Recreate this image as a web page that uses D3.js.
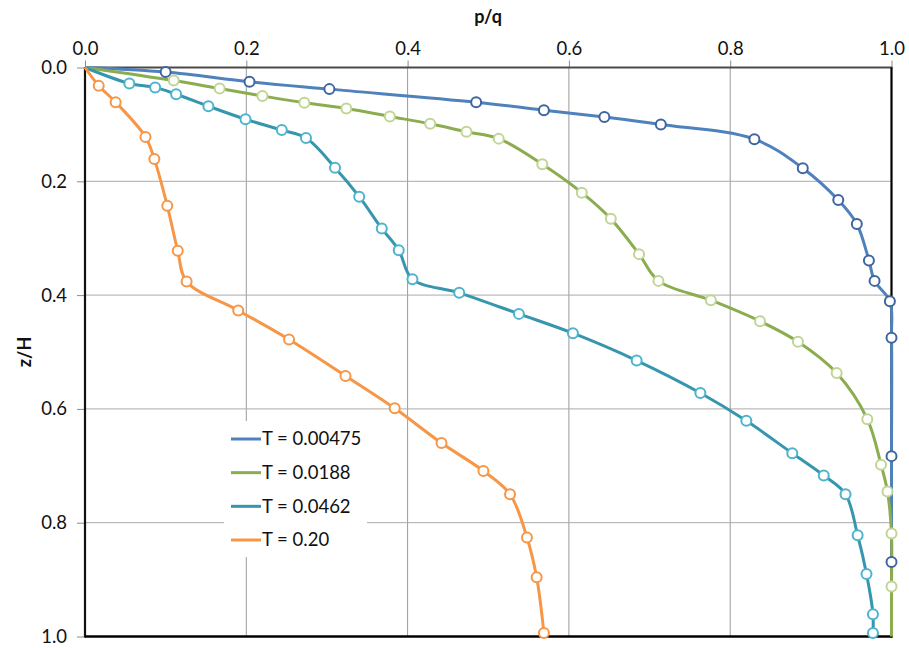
<!DOCTYPE html>
<html><head><meta charset="utf-8">
<script src="https://cdn.jsdelivr.net/npm/d3@7"></script>
<style>body{margin:0;background:#fff;} svg{display:block;font-family:Lato,"Open Sans",sans-serif;}</style>
</head><body><svg id="c" width="909" height="648"></svg>
<script>
const xTicks = [0.0, 0.2, 0.4, 0.6, 0.8, 1.0];
const yTicks = [0.0, 0.2, 0.4, 0.6, 0.8, 1.0];
const seriesNames = ["T = 0.00475", "T = 0.0188", "T = 0.0462", "T = 0.20"];

const pBlue = [0, 0.100, 0.204, 0.303, 0.485, 0.569, 0.644, 0.714, 0.830, 0.890, 0.934, 0.957, 0.972, 0.979, 0.998, 1.0, 1.0, 1.0];
const zBlue = [0, 0.008, 0.025, 0.038, 0.061, 0.075, 0.087, 0.100, 0.126, 0.177, 0.233, 0.275, 0.339, 0.375, 0.411, 0.475, 0.683, 0.869];

const pGreen = [0, 0.110, 0.167, 0.220, 0.272, 0.324, 0.378, 0.428, 0.473, 0.513, 0.567, 0.616, 0.652, 0.687, 0.711, 0.776, 0.837, 0.884, 0.932, 0.970, 0.987, 0.995, 1.0, 1.0, 1.0];
const zGreen = [0, 0.023, 0.037, 0.050, 0.062, 0.072, 0.086, 0.099, 0.113, 0.125, 0.170, 0.220, 0.266, 0.328, 0.375, 0.409, 0.446, 0.482, 0.537, 0.618, 0.698, 0.745, 0.819, 0.912, 1.0];

const pTeal = [0, 0.055, 0.087, 0.113, 0.153, 0.199, 0.244, 0.274, 0.310, 0.340, 0.368, 0.389, 0.406, 0.464, 0.538, 0.605, 0.684, 0.763, 0.820, 0.877, 0.916, 0.943, 0.958, 0.969, 0.977, 0.977];
const zTeal = [0, 0.028, 0.035, 0.047, 0.068, 0.091, 0.110, 0.124, 0.176, 0.227, 0.283, 0.321, 0.372, 0.396, 0.433, 0.467, 0.515, 0.572, 0.621, 0.678, 0.717, 0.750, 0.822, 0.890, 0.961, 0.994];

const pOrange = [0, 0.017, 0.038, 0.075, 0.086, 0.102, 0.115, 0.126, 0.190, 0.253, 0.323, 0.384, 0.442, 0.494, 0.527, 0.548, 0.560, 0.569];
const zOrange = [0, 0.032, 0.061, 0.122, 0.161, 0.243, 0.322, 0.376, 0.427, 0.478, 0.542, 0.599, 0.660, 0.709, 0.750, 0.826, 0.896, 0.994];

// which points carry a marker: [first, lastExclusive]
const series = [
  {name: seriesNames[0], p: pBlue, z: zBlue, line: "#4f81bd", mark: "#3e65a0", m0: 1, m1: pBlue.length},
  {name: seriesNames[1], p: pGreen, z: zGreen, line: "#8cad4f", mark: "#c0d595", m0: 1, m1: pGreen.length - 1},
  {name: seriesNames[2], p: pTeal, z: zTeal, line: "#3596ad", mark: "#4eb3cc", m0: 1, m1: pTeal.length},
  {name: seriesNames[3], p: pOrange, z: zOrange, line: "#f79646", mark: "#f79646", m0: 1, m1: pOrange.length}
];

const svg = d3.select("#c");
const L = 85, R = 891.5, T = 67.5, B = 636.5;
const x = d3.scaleLinear().domain([0, 1]).range([L, R]);
const y = d3.scaleLinear().domain([0, 1]).range([T, B]);

// gridlines
const g = svg.append("g");
g.selectAll(".vg").data(xTicks.slice(1, -1)).join("line")
  .attr("x1", d => x(d)).attr("x2", d => x(d)).attr("y1", T).attr("y2", B)
  .attr("stroke", "#9a9a9a").attr("stroke-width", 1);
g.selectAll(".hg").data(yTicks.slice(1, -1)).join("line")
  .attr("x1", L).attr("x2", R).attr("y1", d => y(d)).attr("y2", d => y(d))
  .attr("stroke", "#ababab").attr("stroke-width", 1);

// axes
const fmt = d3.format(".1f");
const xAxis = d3.axisTop(x).tickValues(xTicks).tickFormat(fmt).tickSize(7).tickPadding(6);
const yAxis = d3.axisLeft(y).tickValues(yTicks).tickFormat(fmt).tickSize(8).tickPadding(10);
const gx = svg.append("g").attr("transform", `translate(0,${T})`).call(xAxis);
const gy = svg.append("g").attr("transform", `translate(${L},0)`).call(yAxis);
[gx, gy].forEach(a => {
  a.select(".domain").remove();
  a.selectAll(".tick line").attr("stroke", "#8c8c8c");
  a.selectAll(".tick text").attr("fill", "#111").attr("font-size", 18.5).attr("font-family", "Lato, sans-serif");
});

// frame
svg.append("line").attr("x1", L).attr("x2", R + 1).attr("y1", T).attr("y2", T).attr("stroke", "#4a4a4a").attr("stroke-width", 2.2);
svg.append("line").attr("x1", L).attr("x2", L).attr("y1", T).attr("y2", B + 1).attr("stroke", "#111").attr("stroke-width", 2.2);
svg.append("line").attr("x1", R).attr("x2", R).attr("y1", T).attr("y2", B + 1).attr("stroke", "#000").attr("stroke-width", 2.2);
svg.append("line").attr("x1", L).attr("x2", R + 1).attr("y1", B).attr("y2", B).attr("stroke", "#000").attr("stroke-width", 2.4);

// legend box (white, covers grid)
const lg = svg.append("g");
lg.append("rect").attr("x", 224).attr("y", 421).attr("width", 143).attr("height", 136).attr("fill", "#fff");

// series
const lineGen = d3.line().x(d => x(d[0])).y(d => y(d[1])).curve(d3.curveCatmullRom.alpha(0.5));
series.forEach(s => {
  const pts = s.p.map((v, i) => [v, s.z[i]]);
  svg.append("path").datum(pts).attr("d", lineGen).attr("fill", "none")
    .attr("stroke", s.line).attr("stroke-width", 3).attr("stroke-linejoin", "round");
});
series.forEach(s => {
  const pts = s.p.map((v, i) => [v, s.z[i]]).slice(s.m0, s.m1);
  svg.append("g").selectAll("circle").data(pts).join("circle")
    .attr("cx", d => x(d[0])).attr("cy", d => y(d[1])).attr("r", 5)
    .attr("fill", "#fff").attr("stroke", s.mark).attr("stroke-width", 2);
});

// legend entries
const ly = d3.scalePoint().domain(seriesNames).range([439, 540]);
series.forEach(s => {
  lg.append("line").attr("x1", 231).attr("x2", 261).attr("y1", ly(s.name)).attr("y2", ly(s.name))
    .attr("stroke", s.line).attr("stroke-width", 3);
  lg.append("text").attr("x", 262).attr("y", ly(s.name)).attr("dy", "0.35em")
    .attr("font-size", 18.5).attr("fill", "#111").text(s.name);
});
lg.raise();

// titles
svg.append("text").attr("x", 488).attr("y", 23).attr("text-anchor", "middle")
  .attr("font-weight", "bold").attr("font-size", 18).attr("fill", "#111").text("p/q");
svg.append("text").attr("transform", "translate(31,352) rotate(-90)").attr("text-anchor", "middle")
  .attr("font-weight", "bold").attr("font-size", 18).attr("fill", "#111").text("z/H");
</script></body></html>
